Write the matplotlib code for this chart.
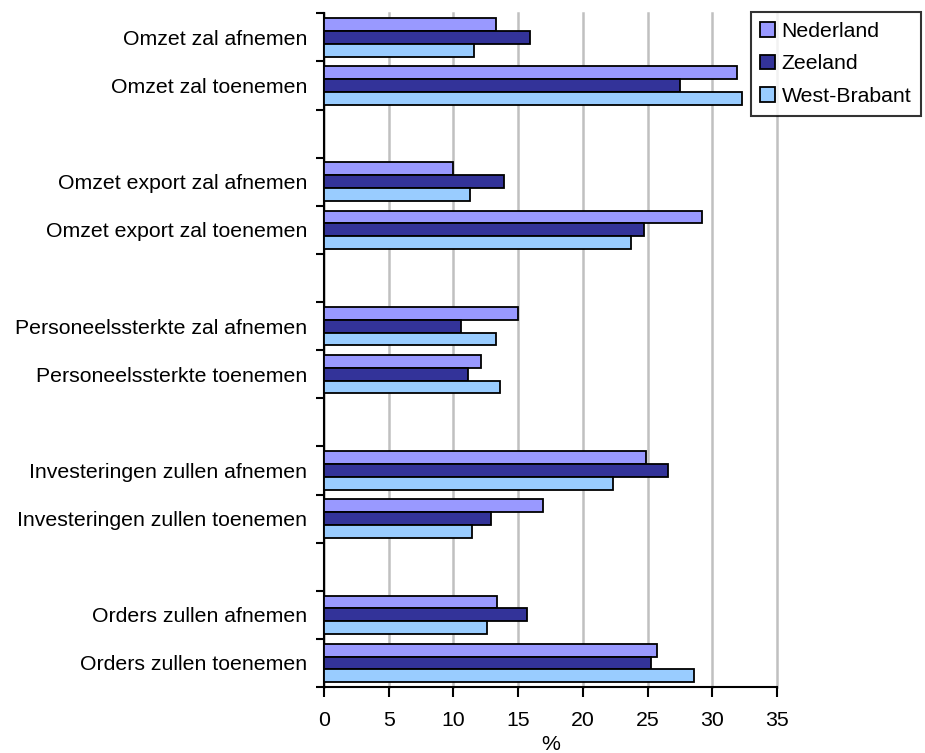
import numpy as np
import matplotlib
matplotlib.use("Agg")
import matplotlib.pyplot as plt
from matplotlib.patches import Patch

categories = [
    "Omzet zal afnemen",
    "Omzet zal toenemen",
    "Omzet export zal afnemen",
    "Omzet export zal toenemen",
    "Personeelssterkte zal afnemen",
    "Personeelssterkte toenemen",
    "Investeringen zullen afnemen",
    "Investeringen zullen toenemen",
    "Orders zullen afnemen",
    "Orders zullen toenemen",
]
nederland = [13.3, 31.9, 10.0, 29.2, 15.0, 12.1, 24.9, 16.9, 13.4, 25.7]
zeeland = [15.9, 27.5, 13.9, 24.7, 10.6, 11.1, 26.6, 12.9, 15.7, 25.3]
west_brabant = [11.6, 32.3, 11.3, 23.7, 13.3, 13.6, 22.3, 11.4, 12.6, 28.6]
series_names = ["Nederland", "Zeeland", "West-Brabant"]
x_ticks = [0, 5, 10, 15, 20, 25, 30, 35]

colors = ["#9999FF", "#333399", "#99CCFF"]

plt.rcParams["font.family"] = ["Liberation Sans", "DejaVu Sans"]
fs = 15.3

fig = plt.figure(figsize=(9.25, 7.53), dpi=100)
ax = fig.add_axes([324 / 925, 1 - 687 / 753, 453 / 925, (687 - 13.3) / 753])

# two categories per block, one empty slot between blocks
pos = np.array([i + i // 2 for i in range(len(categories))], dtype=float)
n_slots = int(pos[-1]) + 1
h = 0.8 / 3

for k, (vals, col) in enumerate(zip([nederland, zeeland, west_brabant], colors)):
    ax.barh(pos + (k - 1) * h, vals, height=h, color=col,
            edgecolor="black", linewidth=1.3, zorder=3)

ax.set_ylim(n_slots - 0.5, -0.5)
ax.set_xlim(0, 35)

ax.set_yticks(pos)
ax.set_yticklabels(categories, fontsize=fs)
ax.set_yticks(np.arange(-0.5, n_slots, 1.0), minor=True)
ax.tick_params(axis="y", which="major", length=0, pad=12)
ax.tick_params(axis="y", which="minor", length=6, width=1.5, direction="out")

ax.set_xticks(x_ticks)
ax.set_xticklabels([str(t) for t in x_ticks], fontsize=fs)
ax.tick_params(axis="x", length=7, width=1.5, direction="out", pad=10)
ax.set_xlabel("%", fontsize=fs, labelpad=4)

ax.grid(axis="x", color="#C0C0C0", linewidth=1.8, zorder=0)
for gl in ax.get_xgridlines():
    gl.set_clip_on(False)
ax.set_axisbelow(True)
for s in ["top", "right"]:
    ax.spines[s].set_visible(False)
for s in ["left", "bottom"]:
    ax.spines[s].set_linewidth(1.5)

handles = [Patch(facecolor=c, edgecolor="black", linewidth=1.3) for c in colors]
leg = fig.legend(handles, series_names, loc="upper right",
                 bbox_to_anchor=(921 / 925, 1 - 12 / 753), fontsize=fs,
                 frameon=True, fancybox=False, edgecolor="black",
                 handlelength=0.7, handleheight=0.7, handletextpad=0.3,
                 labelspacing=0.65, borderpad=0.45, borderaxespad=0)
leg.get_frame().set_linewidth(1.5)

fig.savefig("out.png", dpi=100)
